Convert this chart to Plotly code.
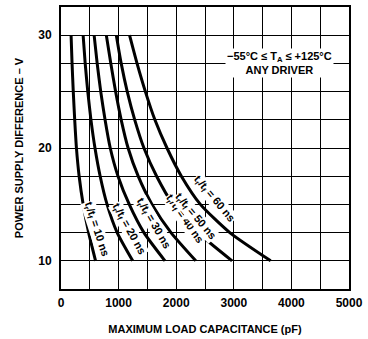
import plotly.graph_objects as go

# Power supply difference (V) at which each curve is read
supply_v = [30, 27.5, 25, 22.5, 20, 17.5, 15, 12.5, 10]

# Maximum load capacitance (pF) for each rise/fall time
cap_10ns = [175, 192, 213, 238, 268, 315, 385, 480, 600]
cap_20ns = [384, 420, 465, 520, 590, 680, 800, 975, 1245]
cap_30ns = [575, 628, 690, 765, 855, 990, 1185, 1440, 1805]
cap_40ns = [787, 865, 948, 1045, 1165, 1340, 1580, 1910, 2340]
cap_50ns = [960, 1045, 1150, 1280, 1440, 1660, 1945, 2380, 2970]
cap_60ns = [1190, 1320, 1465, 1630, 1840, 2090, 2420, 2930, 3640]

series_names = ["10 ns", "20 ns", "30 ns", "40 ns", "50 ns", "60 ns"]
series_caps = [cap_10ns, cap_20ns, cap_30ns, cap_40ns, cap_50ns, cap_60ns]

# Curve label anchors (pF, V) and angles
label_x = [610, 1170, 1610, 2140, 2340, 2660]
label_y = [12.8, 12.8, 13.3, 13.7, 13.9, 15.5]
label_angle = [72, 61, 60, 55, 50, 50]

x_tickvals = [0, 1000, 2000, 3000, 4000, 5000]
y_tickvals = [10, 20, 30]

FONT = "Liberation Sans"

fig = go.Figure()
for name, caps in zip(series_names, series_caps):
    fig.add_trace(go.Scatter(
        x=caps, y=supply_v, mode="lines", name=name,
        line=dict(color="black", width=3, shape="spline", smoothing=0.6),
        hoverinfo="skip", showlegend=False,
    ))

for name, lx, ly, ang in zip(series_names, label_x, label_y, label_angle):
    fig.add_annotation(
        x=lx, y=ly, xref="x", yref="y",
        text=f"t<sub>r</sub>/t<sub>f</sub> = {name}",
        showarrow=False, textangle=ang,
        font=dict(family=FONT, size=11, color="black", weight="bold"),
        bgcolor="white", borderpad=0,
    )

fig.add_annotation(
    x=3800, y=27.5, xref="x", yref="y",
    text="−55°C ≤ T<sub>A</sub> ≤ +125°C<br>ANY DRIVER",
    showarrow=False, align="center",
    font=dict(family=FONT, size=11, color="black", weight="bold"),
    bgcolor="white", borderpad=1,
)

fig.update_layout(
    width=368, height=339,
    margin=dict(l=61, r=17, t=5, b=47),
    paper_bgcolor="white", plot_bgcolor="white",
    font=dict(family=FONT, color="black"),
    xaxis=dict(
        range=[0, 5000], tickvals=x_tickvals,
        showgrid=True, gridcolor="black", gridwidth=1.3,
        minor=dict(dtick=500, tick0=0, showgrid=True, gridcolor="black", gridwidth=1.3),
        showline=True, linecolor="black", linewidth=2, mirror=True,
        zeroline=False, ticks="", ticklabelstandoff=2,
        tickfont=dict(family=FONT, size=12, color="black", weight="bold"),
        title=dict(text="MAXIMUM LOAD CAPACITANCE (pF)", standoff=16,
                   font=dict(family=FONT, size=11, color="black", weight="bold")),
    ),
    yaxis=dict(
        range=[7.5, 32.5], tickvals=y_tickvals,
        showgrid=True, gridcolor="black", gridwidth=1.3,
        minor=dict(dtick=2.5, tick0=0, showgrid=True, gridcolor="black", gridwidth=1.3),
        showline=True, linecolor="black", linewidth=2, mirror=True,
        zeroline=False, ticks="", ticklabelstandoff=5,
        tickfont=dict(family=FONT, size=12, color="black", weight="bold"),
        title=dict(text="POWER SUPPLY DIFFERENCE – V", standoff=12,
                   font=dict(family=FONT, size=11, color="black", weight="bold")),
    ),
)

fig.write_html(
    "out.html",
    config={"displayModeBar": False},
    post_script="document.body.style.margin='0';document.body.style.overflow='hidden';",
)
